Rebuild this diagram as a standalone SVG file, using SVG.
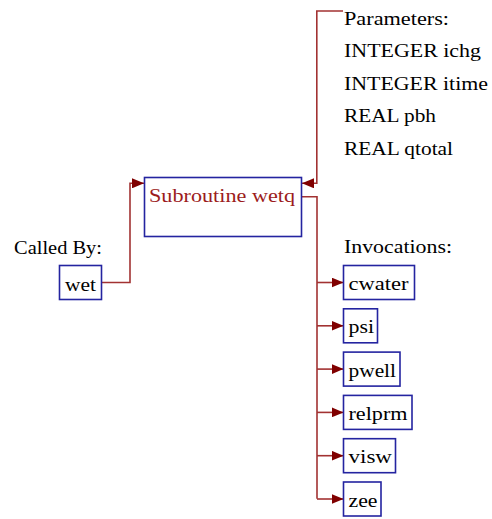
<svg xmlns="http://www.w3.org/2000/svg" width="492" height="519" viewBox="0 0 492 519">
<defs>
<style>
text{font-family:"Liberation Serif","Times New Roman",serif;font-size:19px;fill:#000}
.box{fill:none;stroke:#2424a0;stroke-width:1.6}
.edge{fill:none;stroke:#a23232;stroke-width:1.6}
.title{fill:#9c1c1c}
</style>
<marker id="ah" viewBox="0 0 12 10" refX="12" refY="5" markerWidth="12" markerHeight="10" markerUnits="userSpaceOnUse" orient="auto">
<path d="M0,0 L12,5 L0,10 Z" fill="#800000"/>
</marker>
</defs>
<rect width="492" height="519" fill="#fff"/>
<g id="labels">
<text x="344" y="24.5" textLength="105" lengthAdjust="spacingAndGlyphs">Parameters:</text>
<text x="344" y="57" textLength="137" lengthAdjust="spacingAndGlyphs">INTEGER ichg</text>
<text x="344" y="89.5" textLength="144" lengthAdjust="spacingAndGlyphs">INTEGER itime</text>
<text x="344" y="122" textLength="92" lengthAdjust="spacingAndGlyphs">REAL pbh</text>
<text x="344" y="154.5" textLength="109" lengthAdjust="spacingAndGlyphs">REAL qtotal</text>
<text x="14" y="254" textLength="88" lengthAdjust="spacingAndGlyphs">Called By:</text>
<text x="344" y="253" textLength="108" lengthAdjust="spacingAndGlyphs">Invocations:</text>
</g>
<g id="connectors">
<path class="edge" d="M101.5,282.5 H130 V183.3 H144" marker-end="url(#ah)"/>
<path class="edge" d="M343,11 H316.8 V183.3 H302" marker-end="url(#ah)"/>
<path class="edge" d="M301.5,196.7 H317 V498.8"/>
<path class="edge" d="M317,282.5 H343.5" marker-end="url(#ah)"/>
<path class="edge" d="M317,325.8 H343.5" marker-end="url(#ah)"/>
<path class="edge" d="M317,369.1 H343.5" marker-end="url(#ah)"/>
<path class="edge" d="M317,412.4 H343.5" marker-end="url(#ah)"/>
<path class="edge" d="M317,455.7 H343.5" marker-end="url(#ah)"/>
<path class="edge" d="M317,499 H343.5" marker-end="url(#ah)"/>
</g>
<g id="wetq">
<rect class="box" x="144.5" y="177.5" width="157" height="59"/>
<text class="title" x="149" y="201.5" textLength="146" lengthAdjust="spacingAndGlyphs">Subroutine wetq</text>
</g>
<g id="wet">
<rect class="box" x="59.5" y="265.5" width="42" height="34"/>
<text x="65" y="290.5" textLength="31" lengthAdjust="spacingAndGlyphs">wet</text>
</g>
<g id="cwater">
<rect class="box" x="343.5" y="265.5" width="71" height="34"/>
<text x="348.5" y="290" textLength="60" lengthAdjust="spacingAndGlyphs">cwater</text>
</g>
<g id="psi">
<rect class="box" x="343.5" y="308.8" width="34" height="34"/>
<text x="348.5" y="333.3" textLength="25.5" lengthAdjust="spacingAndGlyphs">psi</text>
</g>
<g id="pwell">
<rect class="box" x="343.5" y="352.1" width="56.5" height="34"/>
<text x="348.5" y="376.6" textLength="47.5" lengthAdjust="spacingAndGlyphs">pwell</text>
</g>
<g id="relprm">
<rect class="box" x="343.5" y="395.4" width="68.5" height="34"/>
<text x="348.5" y="419.9" textLength="59" lengthAdjust="spacingAndGlyphs">relprm</text>
</g>
<g id="visw">
<rect class="box" x="343.5" y="438.7" width="52" height="34"/>
<text x="348.5" y="463.2" textLength="43.5" lengthAdjust="spacingAndGlyphs">visw</text>
</g>
<g id="zee">
<rect class="box" x="343.5" y="482" width="37.5" height="34"/>
<text x="348.5" y="506.5" textLength="29" lengthAdjust="spacingAndGlyphs">zee</text>
</g>
</svg>
